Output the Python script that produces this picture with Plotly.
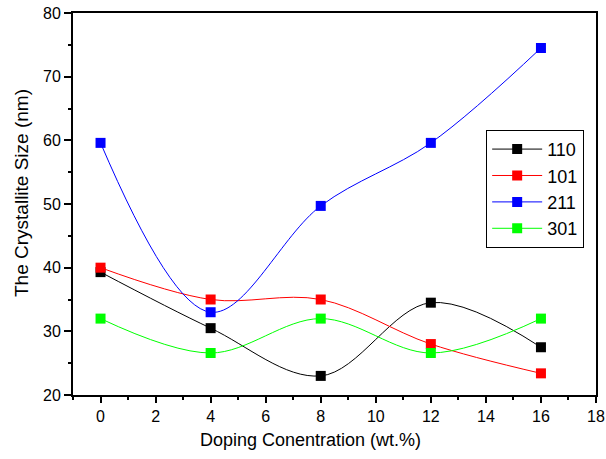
import plotly.graph_objects as go

doping = [0, 4, 8, 12, 16]
series_names = ["110", "101", "211", "301"]
size_110 = [39.3, 30.5, 23.0, 34.5, 27.5]
size_101 = [40.0, 35.0, 35.0, 28.0, 23.4]
size_211 = [59.6, 33.0, 49.7, 59.6, 74.5]
size_301 = [32.0, 26.6, 32.0, 26.6, 32.0]
colors = ["#000000", "#ff0000", "#0000ff", "#00ff00"]
x_ticks = [0, 2, 4, 6, 8, 10, 12, 14, 16, 18]
y_ticks = [20, 30, 40, 50, 60, 70, 80]
x_title = "Doping Conentration (wt.%)"
y_title = "The Crystallite Size (nm)"

font_family = "Arial, Liberation Sans, sans-serif"

fig = go.Figure()
for name, vals, col in zip(series_names, [size_110, size_101, size_211, size_301], colors):
    fig.add_trace(go.Scatter(
        x=doping, y=vals, name=name, mode="lines+markers",
        line=dict(color=col, width=1, shape="spline", smoothing=1.0),
        marker=dict(symbol="square", size=10, color=col),
    ))

axis_common = dict(
    showline=True, linecolor="black", linewidth=2, mirror=True,
    ticks="outside", tickcolor="black", tickwidth=1.5,
    showgrid=False, zeroline=False, automargin=False,
    tickfont=dict(family=font_family, size=16, color="black"),
)

fig.update_xaxes(
    range=[-1, 18], tickvals=x_ticks, ticklen=6,
    minor=dict(dtick=1, ticks="outside", ticklen=3, tickwidth=1.5, tickcolor="black", showgrid=False),
    **axis_common,
)
fig.update_yaxes(
    range=[20, 80], tickvals=y_ticks, ticklen=7,
    minor=dict(dtick=5, ticks="outside", ticklen=3, tickwidth=1.5, tickcolor="black", showgrid=False),
    **axis_common,
)

fig.add_annotation(
    text=x_title, xref="paper", yref="paper", x=(310 - 73) / 523, y=-(440 - 395) / 382,
    xanchor="center", yanchor="middle", showarrow=False,
    font=dict(family=font_family, size=18, color="black"),
)
fig.add_annotation(
    text=y_title, xref="paper", yref="paper", x=-(73 - 21) / 523, y=(395 - 193) / 382,
    xanchor="center", yanchor="middle", showarrow=False, textangle=-90,
    font=dict(family=font_family, size=19, color="black"),
)

fig.update_layout(
    width=606, height=459,
    margin=dict(l=73, r=10, t=13, b=64),
    paper_bgcolor="white", plot_bgcolor="white",
    legend=dict(
        x=0.79, y=0.694, xanchor="left", yanchor="top",
        bgcolor="white", bordercolor="black", borderwidth=1,
        font=dict(family=font_family, size=18, color="black"),
        itemwidth=50, tracegroupgap=0,
    ),
)

fig.write_html("out.html")
